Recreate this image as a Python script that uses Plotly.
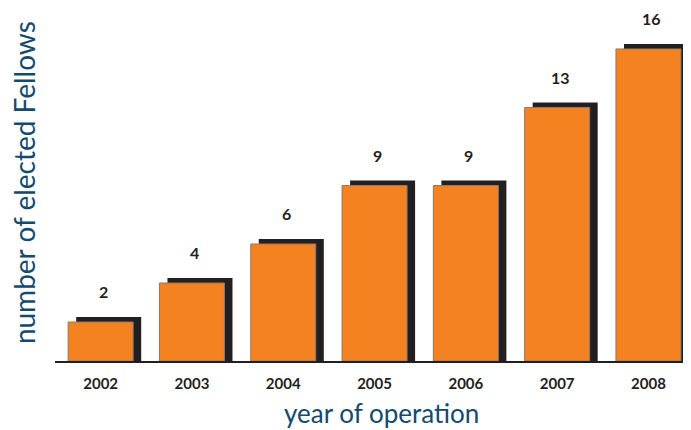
import plotly.graph_objects as go

years = ["2002", "2003", "2004", "2005", "2006", "2007", "2008"]
fellows = [2, 4, 6, 9, 9, 13, 16]

ORANGE = "#f58220"
SHADOW = "#231f20"
BLUE = "#134a6d"
BAR_W = 0.712
SHADOW_DX = 0.088   # category units
SHADOW_DY = 0.26    # value units

fig = go.Figure()
fig.add_trace(go.Bar(
    x=years, y=[v + SHADOW_DY for v in fellows],
    width=BAR_W, offset=-BAR_W / 2 + SHADOW_DX,
    marker=dict(color=SHADOW, line=dict(width=0)),
    hoverinfo="skip", showlegend=False,
))
fig.add_trace(go.Bar(
    x=years, y=fellows,
    width=BAR_W, offset=-BAR_W / 2,
    marker=dict(color=ORANGE, line=dict(width=1, color="#8a7a6e")),
    showlegend=False,
))

for i, v in enumerate(fellows):
    fig.add_annotation(x=i, y=v, xref="x", yref="y", text=f"<b>{v}</b>",
                       showarrow=False, yshift=30, xshift=3,
                       font=dict(family="Lato", size=16, color=SHADOW))

fig.add_annotation(xref="paper", yref="paper", x=-0.0487, y=0.504,
                   text="number of elected Fellows", textangle=-90,
                   showarrow=False, xanchor="center", yanchor="middle",
                   font=dict(family="Lato", size=28, color=BLUE))
fig.add_annotation(xref="paper", yref="paper", x=0.5126, y=-0.146,
                   text="year of operation",
                   showarrow=False, xanchor="center", yanchor="middle",
                   font=dict(family="Lato", size=26, color=BLUE))

fig.update_layout(
    width=683, height=422,
    margin=dict(l=47, r=0, t=0, b=69),
    barmode="overlay",
    plot_bgcolor="white", paper_bgcolor="white",
    xaxis=dict(type="category", range=[-0.5, 6.466], showgrid=False,
               showline=True, linecolor=SHADOW, linewidth=1.5,
               ticks="", ticklabelstandoff=8,
               tickfont=dict(family="Lato", size=15, color=SHADOW, weight="bold"),
               zeroline=False),
    yaxis=dict(range=[0, 18.1], showticklabels=False, ticks="", showline=False,
               showgrid=False, zeroline=False),
)

fig.write_html("out.html")
